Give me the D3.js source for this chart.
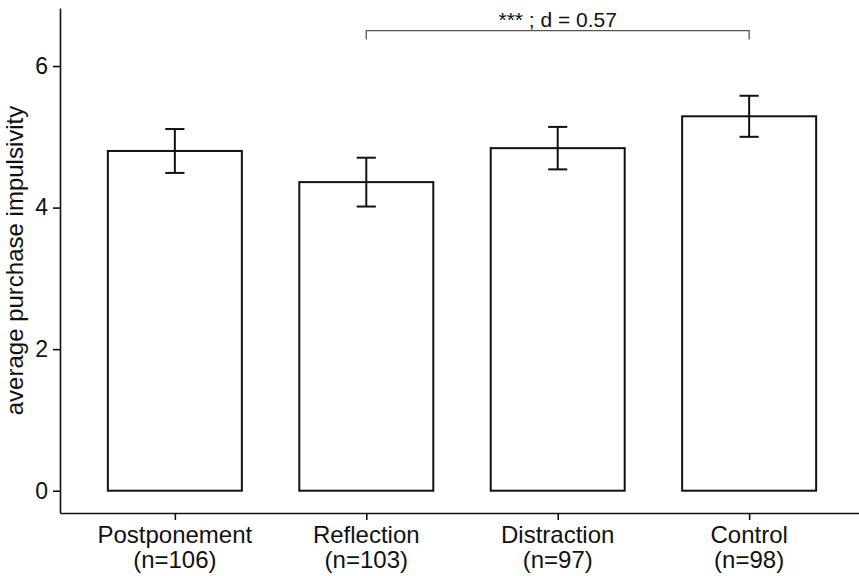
<!DOCTYPE html>
<html>
<head>
<meta charset="utf-8">
<script src="https://cdn.jsdelivr.net/npm/d3@7"></script>
<style>
  html, body { margin: 0; padding: 0; background: #fff; }
  svg { display: block; font-family: "Liberation Sans", Arial, sans-serif; }
</style>
</head>
<body>
<svg id="chart" width="859" height="576"></svg>
<script>
// Conditions, group sizes and mean impulsivity with standard errors
const conditions = ["Postponement", "Reflection", "Distraction", "Control"];
const groupSizes = [106, 103, 97, 98];
const means = [4.80, 4.36, 4.84, 5.29];
const stdErrors = [0.31, 0.345, 0.30, 0.29];
const yTicks = [0, 2, 4, 6];
const comparison = { from: "Reflection", to: "Control", y: 6.5, tip: 0.125, label: "*** ; d = 0.57" };

const svg = d3.select("#chart");
const panel = { left: 60, right: 864, top: 8, bottom: 513 };

const x = d3.scalePoint()
  .domain(conditions)
  .range([panel.left, panel.right])
  .padding(0.6);
const step = x.step();
const barWidth = step * 0.7;
const capWidth = step * 0.1;

const y = d3.scaleLinear()
  .domain([-0.315, 6.82])
  .range([panel.bottom, panel.top]);

const rows = conditions.map((c, i) => ({
  cond: c, n: groupSizes[i], mean: means[i], se: stdErrors[i]
}));

// Bars
svg.append("g")
  .selectAll("rect")
  .data(rows)
  .join("rect")
  .attr("x", d => x(d.cond) - barWidth / 2)
  .attr("width", barWidth)
  .attr("y", d => y(d.mean))
  .attr("height", d => y(0) - y(d.mean))
  .attr("fill", "#fff")
  .attr("stroke", "#111")
  .attr("stroke-width", 2);

// Error bars (mean ± SE)
const eb = svg.append("g").attr("stroke", "#111").attr("stroke-width", 2).attr("fill", "none");
rows.forEach(d => {
  const cx = x(d.cond);
  const yHi = y(d.mean + d.se), yLo = y(d.mean - d.se);
  eb.append("line").attr("x1", cx).attr("x2", cx).attr("y1", yHi).attr("y2", yLo);
  eb.append("line").attr("x1", cx - capWidth / 2).attr("x2", cx + capWidth / 2).attr("y1", yHi).attr("y2", yHi);
  eb.append("line").attr("x1", cx - capWidth / 2).attr("x2", cx + capWidth / 2).attr("y1", yLo).attr("y2", yLo);
});

// Significance bracket
const bx1 = x(comparison.from), bx2 = x(comparison.to);
const by = y(comparison.y), byTip = y(comparison.y - comparison.tip);
svg.append("path")
  .attr("d", `M${bx1},${byTip}V${by}H${bx2}V${byTip}`)
  .attr("fill", "none")
  .attr("stroke", "#555")
  .attr("stroke-width", 1.3);
svg.append("text")
  .attr("x", (bx1 + bx2) / 2)
  .attr("y", by - 4)
  .attr("text-anchor", "middle")
  .attr("font-size", 21)
  .attr("fill", "#111")
  .text(comparison.label);

// Y axis
const yAxis = svg.append("g")
  .attr("transform", `translate(${panel.left},0)`)
  .call(d3.axisLeft(y).tickValues(yTicks).tickSizeInner(7).tickSizeOuter(0).tickPadding(5).tickFormat(d3.format("d")));
yAxis.select(".domain").attr("stroke", "#111").attr("stroke-width", 1.6);
yAxis.selectAll(".tick line").attr("stroke", "#111").attr("stroke-width", 1.6);
yAxis.selectAll(".tick text")
  .attr("font-size", 23)
  .attr("fill", "#111")
  .attr("font-family", "Liberation Sans, Arial, sans-serif");

// X axis
const xAxis = svg.append("g")
  .attr("transform", `translate(0,${panel.bottom})`)
  .call(d3.axisBottom(x).tickSizeInner(7).tickSizeOuter(0).tickFormat(""));
xAxis.select(".domain").attr("stroke", "#111").attr("stroke-width", 1.6);
xAxis.selectAll(".tick line").attr("stroke", "#111").attr("stroke-width", 1.6);

// Two-line category labels
const labels = svg.append("g").attr("font-size", 24).attr("fill", "#111").attr("text-anchor", "middle");
rows.forEach(d => {
  const t = labels.append("text").attr("x", x(d.cond)).attr("y", 543);
  t.append("tspan").attr("x", x(d.cond)).text(d.cond);
  t.append("tspan").attr("x", x(d.cond)).attr("dy", 25).text(`(n=${d.n})`);
});

// Y axis title
svg.append("text")
  .attr("transform", `translate(23,${(panel.top + panel.bottom) / 2}) rotate(-90)`)
  .attr("text-anchor", "middle")
  .attr("font-size", 24)
  .attr("fill", "#111")
  .text("average purchase impulsivity");
</script>
</body>
</html>
